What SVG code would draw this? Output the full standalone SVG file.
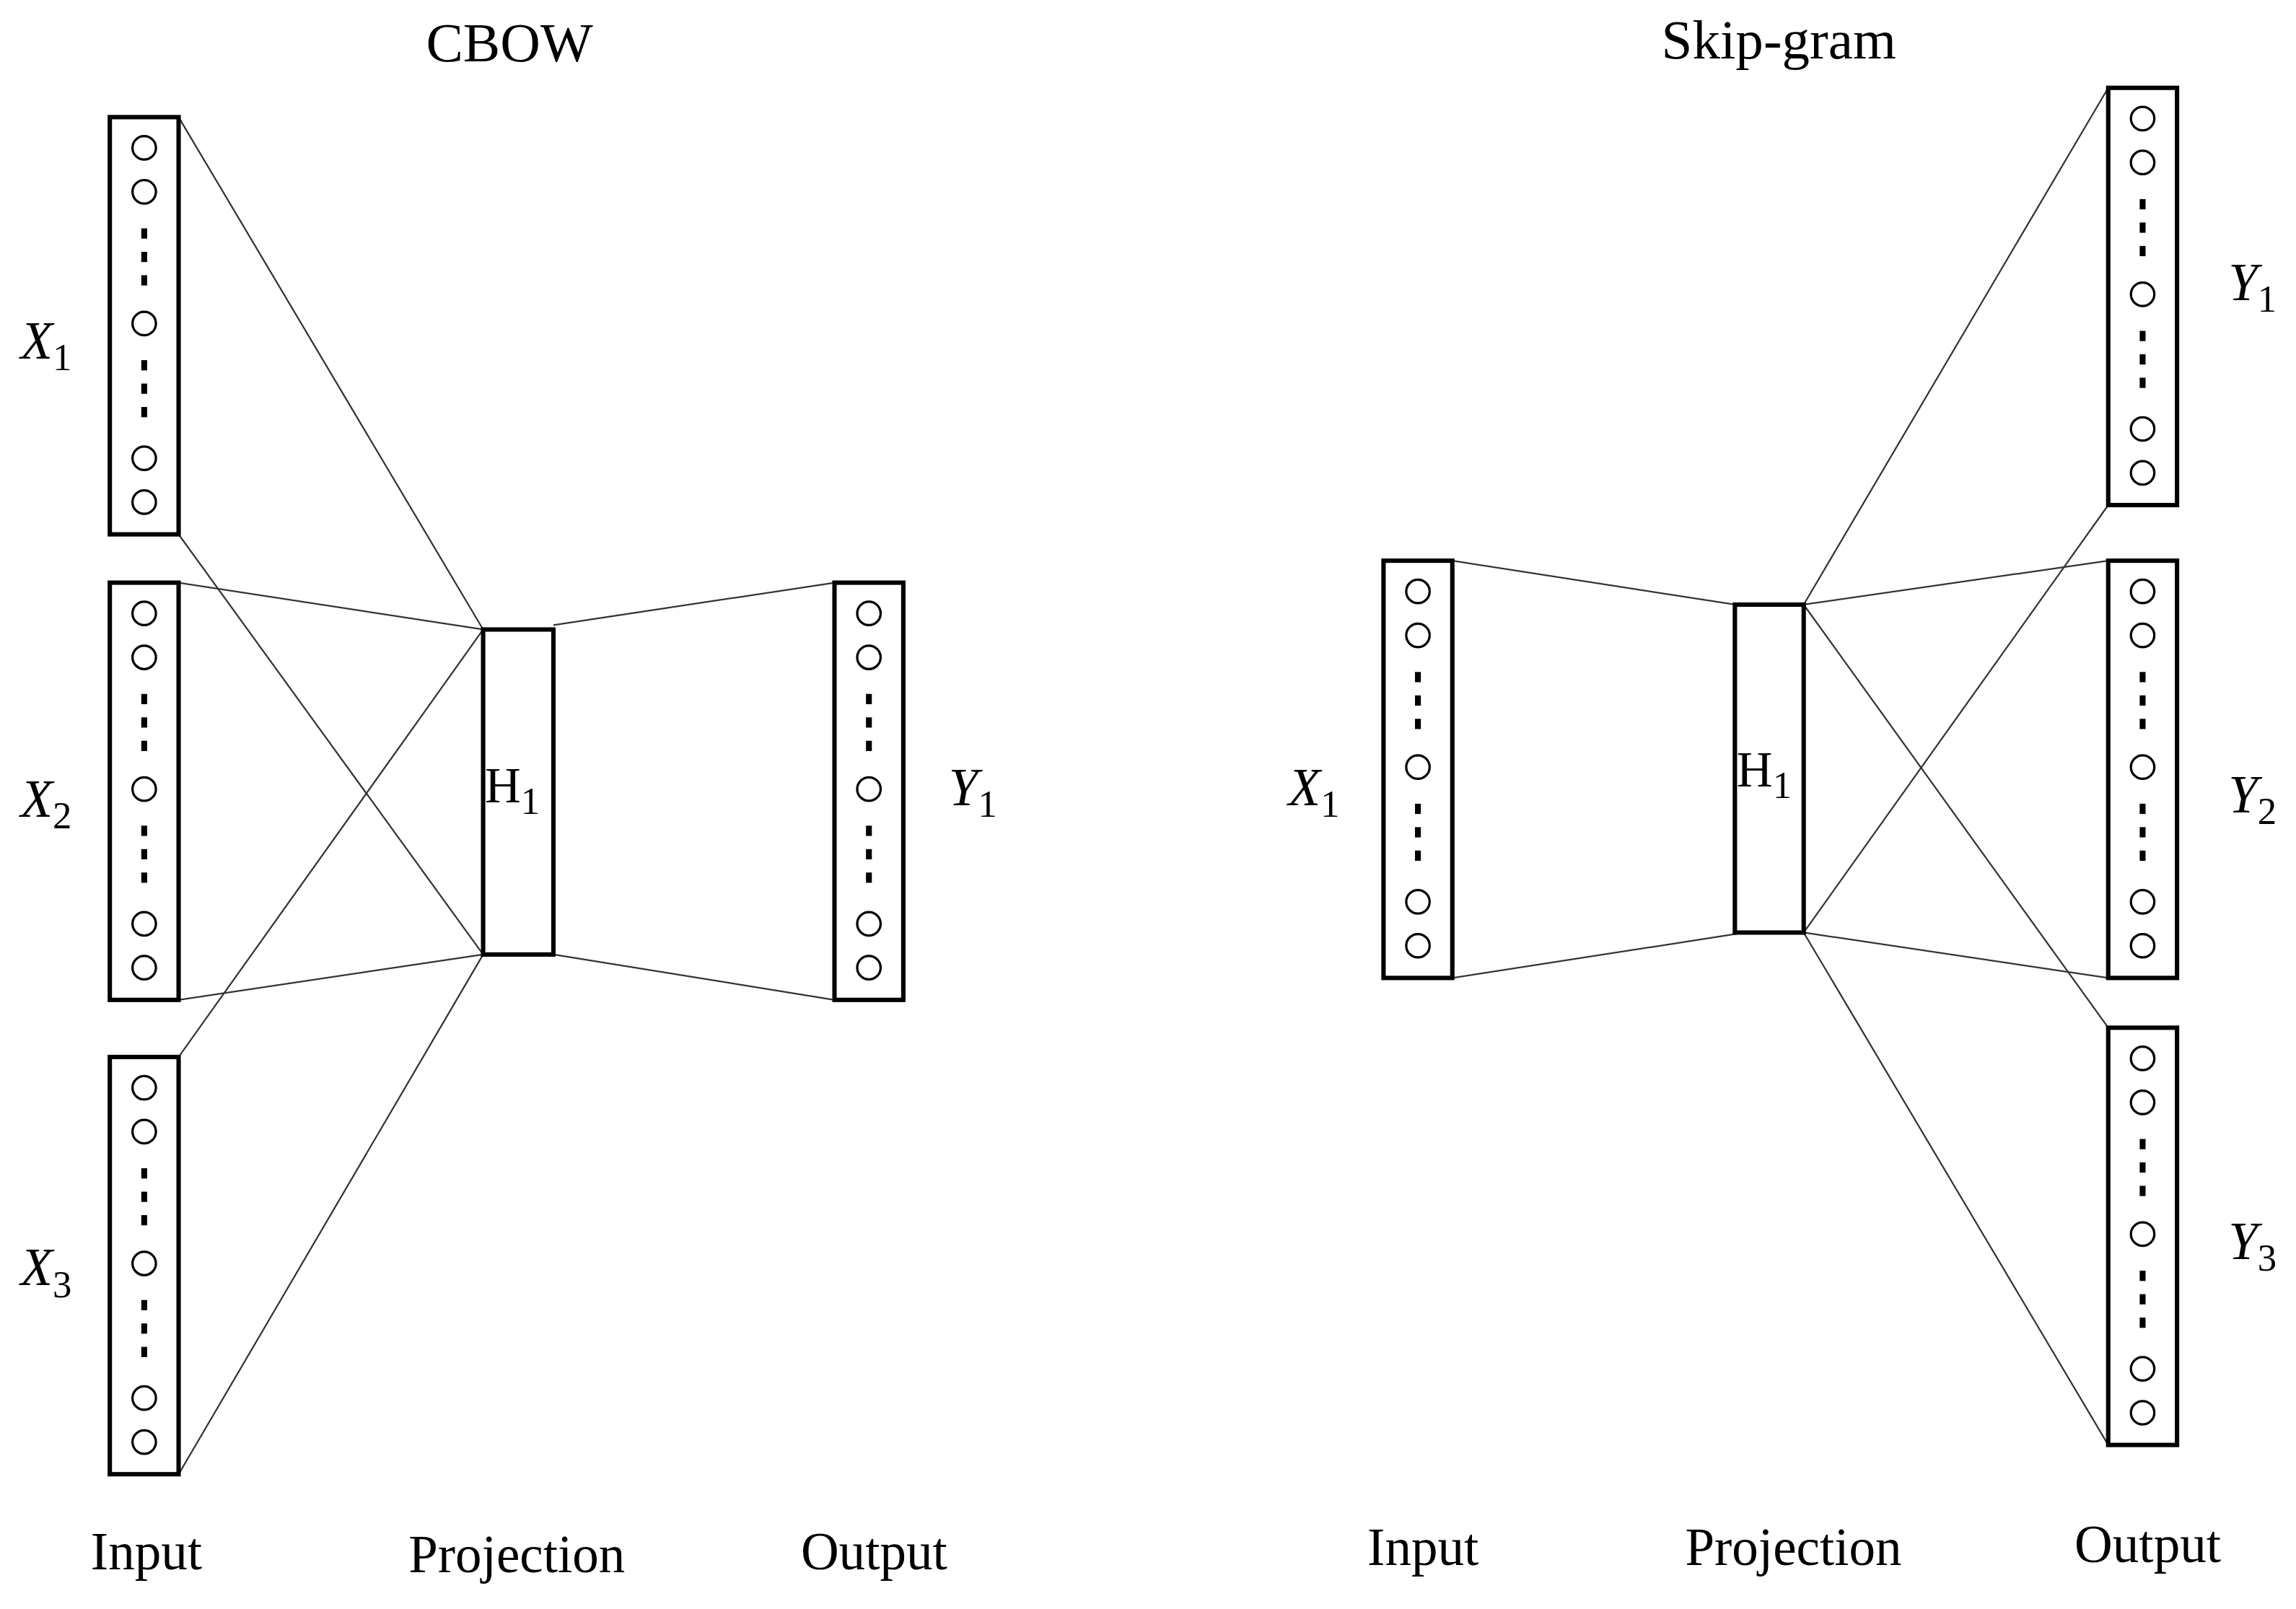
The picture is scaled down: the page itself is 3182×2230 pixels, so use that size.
<svg xmlns="http://www.w3.org/2000/svg" xmlns:xlink="http://www.w3.org/1999/xlink" width="3182" height="2230" viewBox="0 0 3182 2230">
<style>
.box{fill:#fff;stroke:#000;stroke-width:3}
.c{fill:none;stroke:#000;stroke-width:1.6}
.ln{stroke:#333;stroke-width:1.1;fill:none}
.t{font-family:"Liberation Serif",serif;font-size:36px;fill:#000;text-anchor:middle}
.v{font-family:"Liberation Serif",serif;font-style:italic;font-size:36px;fill:#000}
.s{font-style:normal;font-size:26px}
</style>
<defs>
<g id="col">
<rect class="box" x="0" y="0" width="47" height="285"/>
<circle class="c" cx="23.5" cy="21" r="8"/>
<circle class="c" cx="23.5" cy="51" r="8"/>
<rect x="21.5" y="76" width="4" height="7"/>
<rect x="21.5" y="92" width="4" height="7"/>
<rect x="21.5" y="108" width="4" height="7"/>
<circle class="c" cx="23.5" cy="141" r="8"/>
<rect x="21.5" y="166" width="4" height="7"/>
<rect x="21.5" y="182" width="4" height="7"/>
<rect x="21.5" y="198" width="4" height="7"/>
<circle class="c" cx="23.5" cy="233" r="8"/>
<circle class="c" cx="23.5" cy="263" r="8"/>
</g>
</defs>
<rect width="3182" height="2230" fill="#fff"/>
<g transform="scale(2.029)">
<g id="connectors">
<line class="ln" x1="122" y1="80" x2="330" y2="430"/>
<line class="ln" x1="122" y1="365" x2="330" y2="652"/>
<line class="ln" x1="122" y1="398" x2="330" y2="430"/>
<line class="ln" x1="122" y1="683" x2="330" y2="652"/>
<line class="ln" x1="122" y1="722" x2="330" y2="430"/>
<line class="ln" x1="122" y1="1007" x2="330" y2="652"/>
<line class="ln" x1="378" y1="427" x2="570" y2="398"/>
<line class="ln" x1="378" y1="652" x2="570" y2="683"/>
<line class="ln" x1="992" y1="383" x2="1185" y2="413"/>
<line class="ln" x1="992" y1="668" x2="1192" y2="637"/>
<line class="ln" x1="1232" y1="413" x2="1440" y2="60"/>
<line class="ln" x1="1232" y1="413" x2="1440" y2="383"/>
<line class="ln" x1="1232" y1="413" x2="1440" y2="702"/>
<line class="ln" x1="1232" y1="637" x2="1440" y2="345"/>
<line class="ln" x1="1232" y1="637" x2="1440" y2="668"/>
<line class="ln" x1="1232" y1="637" x2="1440" y2="987"/>
</g>
<text class="t" x="348" y="42" style="font-size:38px">CBOW</text>
<text class="t" x="1215" y="40" style="font-size:38px">Skip-gram</text>
<g id="cbow-x1"><use xlink:href="#col" x="75" y="80"/><text class="v" x="14" y="245">X<tspan class="s" dy="8">1</tspan></text></g>
<g id="cbow-x2"><use xlink:href="#col" x="75" y="398"/><text class="v" x="14" y="558">X<tspan class="s" dy="8">2</tspan></text></g>
<g id="cbow-x3"><use xlink:href="#col" x="75" y="722"/><text class="v" x="14" y="878">X<tspan class="s" dy="8">3</tspan></text></g>
<g id="cbow-h1"><rect class="box" x="330" y="430" width="48" height="222"/><text class="t" x="350" y="548" style="font-size:34px">H<tspan class="s" dy="8">1</tspan></text></g>
<g id="cbow-y1"><use xlink:href="#col" x="570" y="398"/><text class="v" x="648" y="550">Y<tspan class="s" dy="8">1</tspan></text></g>
<text class="t" x="100" y="1072">Input</text>
<text class="t" x="353" y="1074">Projection</text>
<text class="t" x="597" y="1072">Output</text>
<g id="sg-x1"><use xlink:href="#col" x="945" y="383"/><text class="v" x="880" y="550">X<tspan class="s" dy="8">1</tspan></text></g>
<g id="sg-h1"><rect class="box" x="1185" y="413" width="47" height="224"/><text class="t" x="1205" y="537" style="font-size:34px">H<tspan class="s" dy="8">1</tspan></text></g>
<g id="sg-y1"><use xlink:href="#col" x="1440" y="60"/><text class="v" x="1522" y="205">Y<tspan class="s" dy="8">1</tspan></text></g>
<g id="sg-y2"><use xlink:href="#col" x="1440" y="383"/><text class="v" x="1522" y="555">Y<tspan class="s" dy="8">2</tspan></text></g>
<g id="sg-y3"><use xlink:href="#col" x="1440" y="702"/><text class="v" x="1522" y="860">Y<tspan class="s" dy="8">3</tspan></text></g>
<text class="t" x="972" y="1069">Input</text>
<text class="t" x="1225" y="1069">Projection</text>
<text class="t" x="1467" y="1067">Output</text>
</g>
</svg>
